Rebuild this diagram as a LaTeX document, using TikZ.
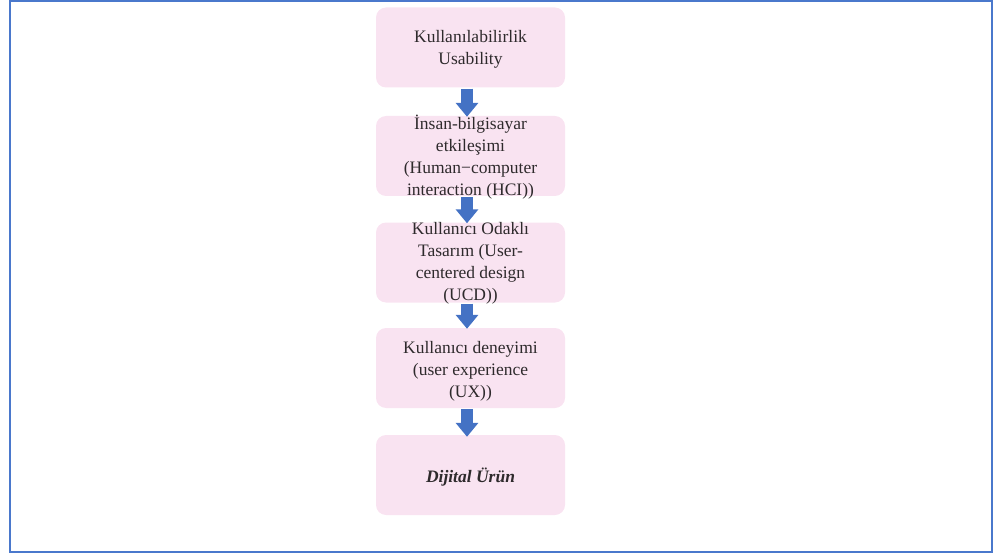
\documentclass[tikz,border=0pt]{standalone}
\usepackage{fontspec}
\setmainfont{Liberation Serif}
\usetikzlibrary{arrows.meta}
\definecolor{boxpink}{HTML}{F9E3F1}
\definecolor{arrblue}{HTML}{4472C4}
\definecolor{framblue}{HTML}{4A78CC}
\definecolor{txtgray}{HTML}{2E2A2C}
\tikzset{
  stagebox/.style={fill=boxpink, rounded corners=10pt, minimum width=189pt, minimum height=80pt, inner sep=0pt},
  stagetext/.style={align=center, text=txtgray, inner sep=0pt, font=\fontsize{17.5}{22}\selectfont},
  flowarrow/.style={draw=arrblue, line width=12.5pt, -{Triangle[width=22pt,length=14pt]}}
}
\begin{document}
\begin{tikzpicture}[x=1pt,y=-1pt]
\useasboundingbox (0,0) rectangle (998,556);
\draw[framblue, line width=2pt] (9.5,1.5) rectangle (992,552);
\node[stagebox] (b1) at (470.5,47.5) {};
\node[stagebox] (b2) at (470.5,156) {};
\node[stagebox] (b3) at (470.5,262.5) {};
\node[stagebox] (b4) at (470.5,368) {};
\node[stagebox] (b5) at (470.5,475) {};
\node[stagetext] (t1) at ([yshift=-1.5pt]b1.center) {Kullanılabilirlik\\Usability};
\node[stagetext] (t2) at ([yshift=-1pt]b2.center) {İnsan-bilgisayar\\etkileşimi\\(Human−computer\\interaction (HCI))};
\node[stagetext] (t3) at ([yshift=-1pt]b3.center) {Kullanıcı Odaklı\\Tasarım (User-\\centered design\\(UCD))};
\node[stagetext] (t4) at ([yshift=-3pt]b4.center) {Kullanıcı deneyimi\\(user experience\\(UX))};
\node[stagetext, font=\fontsize{17.5}{22}\selectfont\bfseries\itshape] (t5) at ([yshift=-2pt]b5.center) {Dijital Ürün};
\draw[flowarrow] ([xshift=-3.5pt,yshift=-1pt]b1.south) -- ([xshift=-3.5pt,yshift=-1pt]b2.north);
\draw[flowarrow] ([xshift=-3.5pt,yshift=-1pt]b2.south) -- ([xshift=-3.5pt,yshift=-1pt]b3.north);
\draw[flowarrow] ([xshift=-3.5pt,yshift=-1pt]b3.south) -- ([xshift=-3.5pt,yshift=-1pt]b4.north);
\draw[flowarrow] ([xshift=-3.5pt,yshift=-1pt]b4.south) -- ([xshift=-3.5pt,yshift=-2pt]b5.north);
\end{tikzpicture}
\end{document}
